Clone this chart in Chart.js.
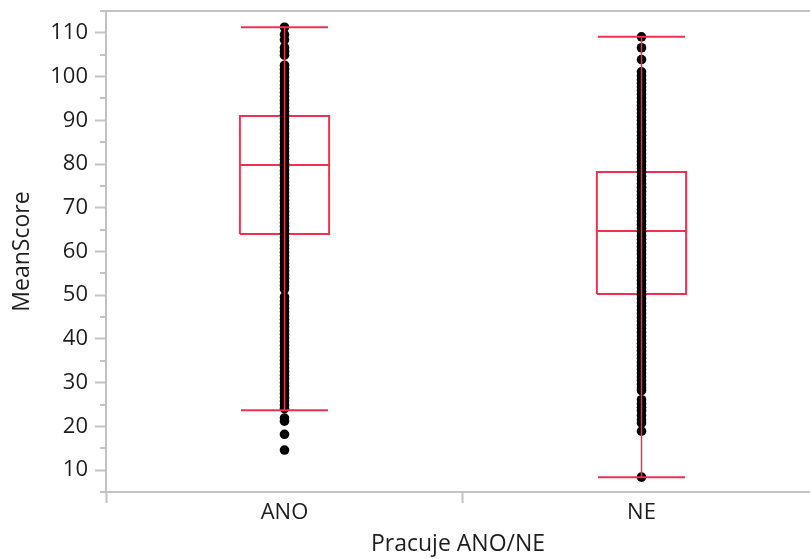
<!DOCTYPE html>
<html>
<head>
<meta charset="utf-8">
<script src="https://cdn.jsdelivr.net/npm/chart.js@4"></script>
<style>
  html, body { margin: 0; padding: 0; background: #fff; overflow: hidden; }
  #wrap { width: 810px; height: 559px; position: relative; }
</style>
</head>
<body>
<div id="wrap"><canvas id="boxChart"></canvas></div>
<script>
// data
const categories = ["ANO", "NE"];
const whiskerLow = [23.7, 8.4];
const q1 = [64.0, 50.3];
const median = [79.8, 64.7];
const q3 = [91.0, 78.2];
const whiskerHigh = [111.3, 109.1];

const anoScores = [
  111.3, 109.6, 108.4, 106.6, 105.8, 104.9, 102.6, 101.7, 100.8, 99.9, 99.0, 98.1,
  97.3, 96.4, 95.5, 94.6, 93.8, 92.9, 92.1, 91.3, 90.4, 89.6, 88.7, 87.9, 87.0,
  86.2, 85.3, 84.5, 83.6, 82.8, 81.9, 81.1, 80.2, 79.4, 78.5, 77.7, 76.8, 76.0,
  75.1, 74.3, 73.4, 72.6, 71.7, 70.9, 70.0, 69.2, 68.3, 67.5, 66.6, 65.8, 64.9,
  64.1, 63.2, 62.4, 61.5, 60.7, 59.8, 59.0, 58.1, 57.3, 56.4, 55.6, 54.7, 53.9,
  53.0, 52.2, 51.4, 49.6, 48.7, 47.9, 47.0, 46.2, 45.3, 44.5, 43.6, 42.8, 41.9,
  41.1, 40.2, 39.4, 38.5, 37.7, 36.8, 36.0, 35.1, 34.3, 33.4, 32.6, 31.7, 30.9,
  30.0, 29.2, 28.3, 27.5, 26.6, 25.8, 24.9, 24.1, 21.9, 21.2, 18.2, 14.6
];
const neScores = [
  109.1, 106.6, 103.9, 101.1, 100.2, 99.3, 98.5, 97.6, 96.8, 95.9, 95.1, 94.2,
  93.4, 92.5, 91.7, 90.8, 90.0, 89.1, 88.3, 87.4, 86.6, 85.7, 84.9, 84.0, 83.2,
  82.3, 81.5, 80.6, 79.8, 78.9, 78.1, 77.2, 76.4, 75.5, 74.7, 73.8, 73.0, 72.1,
  71.3, 70.4, 69.6, 68.7, 67.9, 67.0, 66.2, 65.3, 64.5, 63.6, 62.8, 61.9, 61.1,
  60.2, 59.4, 58.5, 57.7, 56.8, 56.0, 55.1, 54.3, 53.4, 52.6, 51.7, 50.9, 50.0,
  49.2, 48.3, 47.5, 46.6, 45.8, 44.9, 44.1, 43.2, 42.4, 41.5, 40.7, 39.8, 39.0,
  38.1, 37.3, 36.4, 35.6, 34.7, 33.9, 33.0, 32.2, 31.3, 30.5, 29.6, 28.8, 28.2,
  26.1, 25.2, 24.4, 23.6, 22.5, 21.5, 20.8, 18.9, 8.4
];
const scoreGroups = [anoScores, neScores];

const majorTicks = [10, 20, 30, 40, 50, 60, 70, 80, 90, 100, 110];
const minorTicks = [5, 15, 25, 35, 45, 55, 65, 75, 85, 95, 105, 115];

const RED = "#f0304e";
const AXIS = "#c3c3c3";
const TEXT = "#1e1e1e";
const FONT = "'Open Sans', 'Noto Sans', sans-serif";
const boxHalf = 0.125;
const capHalf = 0.122;

let datasets = [];

categories.forEach((cat, i) =>
{
    datasets.push({
        label: cat + " scores",
        data: scoreGroups[i].map(v => ({ x: i, y: v })),
        pointRadius: 4.8,
        pointBackgroundColor: "#000",
        pointBorderWidth: 0,
        showLine: false,
        order: 2
    });
    datasets.push({
        label: cat + " box",
        data: [
            { x: i - boxHalf, y: q1[i] }, { x: i + boxHalf, y: q1[i] },
            { x: i + boxHalf, y: q3[i] }, { x: i - boxHalf, y: q3[i] },
            { x: i - boxHalf, y: q1[i] }
        ],
        showLine: true, borderColor: RED, borderWidth: 2, pointRadius: 0, order: 3
    });
    datasets.push({
        label: cat + " median",
        data: [{ x: i - boxHalf, y: median[i] }, { x: i + boxHalf, y: median[i] }],
        showLine: true, borderColor: RED, borderWidth: 2, pointRadius: 0, order: 3
    });
    datasets.push({
        label: cat + " whisker",
        data: [{ x: i, y: whiskerLow[i] }, { x: i, y: whiskerHigh[i] }],
        showLine: true, borderColor: RED, borderWidth: 1.5, pointRadius: 0, order: 1
    });
    datasets.push({
        label: cat + " low cap",
        data: [{ x: i - capHalf, y: whiskerLow[i] }, { x: i + capHalf, y: whiskerLow[i] }],
        showLine: true, borderColor: RED, borderWidth: 2, pointRadius: 0, order: 1
    });
    datasets.push({
        label: cat + " high cap",
        data: [{ x: i - capHalf, y: whiskerHigh[i] }, { x: i + capHalf, y: whiskerHigh[i] }],
        showLine: true, borderColor: RED, borderWidth: 2, pointRadius: 0, order: 1
    });
});

// short ticks between the labelled ones
const minorTickPlugin = {
    id: "minorTicks",
    afterDraw(chart)
    {
        const y = chart.scales.y;
        const c = chart.ctx;
        c.save();
        c.strokeStyle = AXIS;
        c.lineWidth = 2;
        minorTicks.forEach(v =>
        {
            const py = Math.round(y.getPixelForValue(v));
            c.beginPath();
            c.moveTo(y.right - 6, py);
            c.lineTo(y.right, py);
            c.stroke();
        });
        c.restore();
    }
};

var ctx = document.getElementById("boxChart").getContext("2d");

var myChart = new Chart(ctx, {
    type: "scatter",
    data: { datasets: datasets },
    plugins: [minorTickPlugin],
    options: {
        responsive: true,
        maintainAspectRatio: false,
        animation: false,
        layout: {
            autoPadding: false,
            padding: { top: 11, left: 0, right: 0, bottom: 0 }
        },
        plugins: {
            legend: { display: false },
            tooltip: { enabled: false }
        },
        scales: {
            x: {
                type: "linear",
                position: "bottom",
                min: -0.5,
                max: 1.472,
                afterBuildTicks: (scale) =>
                {
                    scale.ticks = [-0.5, 0, 0.5, 1].map(v => ({ value: v }));
                },
                afterFit: (scale) =>
                {
                    scale.height = 67;
                    scale.paddingLeft = 0;
                    scale.paddingRight = 0;
                },
                ticks: {
                    autoSkip: false,
                    maxRotation: 0,
                    padding: -3,
                    color: TEXT,
                    font: { family: FONT, size: 22 },
                    callback: (v) => Number.isInteger(v) ? categories[v] : ""
                },
                grid: {
                    drawOnChartArea: false,
                    tickLength: 11,
                    tickWidth: 2,
                    tickColor: (c) => (c.tick && Number.isInteger(c.tick.value)) ? "rgba(0,0,0,0)" : AXIS
                },
                border: { color: AXIS, width: 2 },
                title: {
                    display: true,
                    text: "Pracuje ANO/NE",
                    color: TEXT,
                    font: { family: FONT, size: 23 },
                    padding: { top: 0, bottom: 1 }
                }
            },
            x2: {
                type: "linear",
                position: "top",
                min: -0.5,
                max: 1.472,
                afterFit: (scale) =>
                {
                    scale.height = 0;
                    scale.paddingLeft = 0;
                    scale.paddingRight = 0;
                },
                ticks: { display: false },
                grid: { display: false },
                border: { color: AXIS, width: 2 }
            },
            y: {
                min: 5,
                max: 115,
                afterBuildTicks: (scale) =>
                {
                    scale.ticks = majorTicks.map(v => ({ value: v }));
                },
                afterFit: (scale) =>
                {
                    scale.width = 106;
                    scale.paddingTop = 0;
                    scale.paddingBottom = 0;
                },
                ticks: {
                    padding: 7,
                    color: TEXT,
                    font: { family: FONT, size: 22 }
                },
                grid: {
                    drawOnChartArea: false,
                    tickLength: 11,
                    tickWidth: 2,
                    tickColor: AXIS
                },
                border: { color: AXIS, width: 2 },
                title: {
                    display: true,
                    text: "MeanScore",
                    color: TEXT,
                    font: { family: FONT, size: 23 },
                    padding: { top: 9, bottom: 0 }
                }
            }
        }
    }
});
</script>
</body>
</html>
